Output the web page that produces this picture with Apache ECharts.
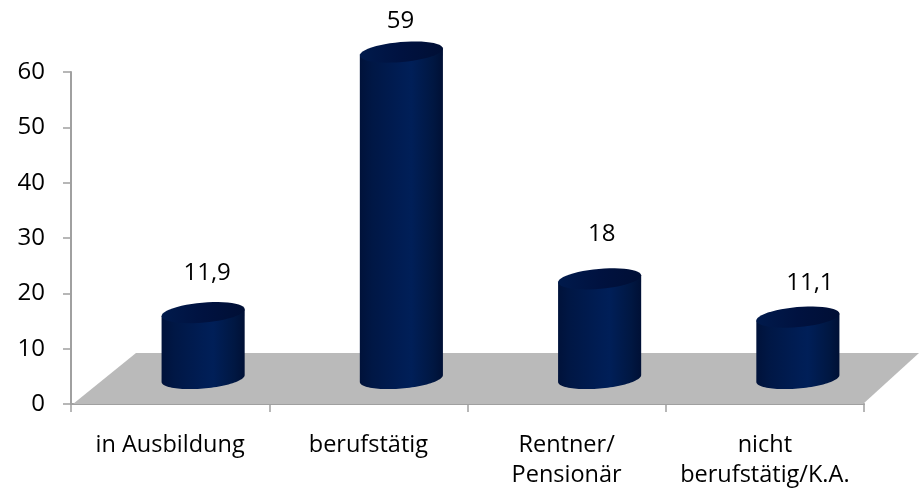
<!DOCTYPE html>
<html>
<head>
<meta charset="utf-8">
<style>html,body{margin:0;padding:0;background:#fff}#c{width:919px;height:488px}</style>
<script src="https://cdn.jsdelivr.net/npm/echarts@6/dist/echarts.min.js"></script>
</head>
<body>
<div id="c"></div>
<script>
const categories = ['in Ausbildung', 'berufstätig', 'Rentner/\nPensionär', 'nicht\nberufstätig/K.A.'];
const values = [11.9, 59, 18, 11.1];
const yTicks = { min: 0, max: 60, interval: 10 };

// style constants of the fake-3D look
const FONT = '"Open Sans", sans-serif';
const DEPTH_X = 33, DEPTH_Y = 25.5;
const RX = 41.7, RY = 10, TILT = 5 * Math.PI / 180;
const LABEL_NUDGE = [[4, -39], [-1, -31], [2, -45], [12, -34]];

function ellipsePoint(cx, cy, t) {
  const c = Math.cos(t), s = Math.sin(t);
  return [
    cx + RX * c * Math.cos(TILT) + RY * s * Math.sin(TILT),
    cy - RX * c * Math.sin(TILT) + RY * s * Math.cos(TILT)
  ];
}
function arc(cx, cy, t0, t1) {
  const pts = [];
  for (let i = 0; i <= 48; i++) pts.push(ellipsePoint(cx, cy, t0 + (t1 - t0) * i / 48));
  return pts;
}
const T0 = Math.atan((RY / RX) * Math.tan(TILT));

const bodyFill = {
  type: 'linear', x: 0, y: 0, x2: 1, y2: 0,
  colorStops: [
    { offset: 0, color: '#00123a' }, { offset: 0.15, color: '#001745' },
    { offset: 0.5, color: '#001d54' }, { offset: 0.62, color: '#001f58' },
    { offset: 0.88, color: '#001742' }, { offset: 1, color: '#001035' }
  ]
};
const capFill = {
  type: 'linear', x: 0, y: 0, x2: 1, y2: 0,
  colorStops: [
    { offset: 0, color: '#001a4c' }, { offset: 0.5, color: '#001240' }, { offset: 1, color: '#000f35' }
  ]
};

function renderFloor(params, api) {
  const g = params.coordSys, b = g.y + g.height;
  return {
    type: 'polygon', silent: true,
    shape: { points: [[g.x + 2, b], [g.x + 65, b - 51], [919, b - 51], [g.x + g.width - 1, b]] },
    style: { fill: '#bababa' }
  };
}

function renderBar(params, api) {
  const i = api.value(0), v = api.value(1);
  const top = api.coord([i, v]), base = api.coord([i, 0]);
  const cx = base[0] + DEPTH_X;
  const botY = base[1] - DEPTH_Y, topY = top[1] - DEPTH_Y;
  const body = [ellipsePoint(cx, topY, T0)]
    .concat(arc(cx, botY, T0, T0 + Math.PI))
    .concat([ellipsePoint(cx, topY, T0 + Math.PI)]);
  const n = LABEL_NUDGE[i];
  return {
    type: 'group',
    children: [
      { type: 'polygon', shape: { points: body }, style: { fill: bodyFill } },
      { type: 'polygon', shape: { points: arc(cx, topY, 0, Math.PI * 2) }, style: { fill: capFill } },
      { type: 'text', style: {
          x: cx + n[0], y: topY + n[1],
          text: String(v).replace('.', ','),
          fill: '#000', font: '24px ' + FONT, align: 'center', verticalAlign: 'middle'
      } }
    ]
  };
}

const chart = echarts.init(document.getElementById('c'), null, { renderer: 'canvas' });
chart.setOption({
  animation: false,
  backgroundColor: '#fff',
  grid: { left: 71, right: 55, top: 72, bottom: 84, outerBoundsMode: 'none' },
  xAxis: {
    type: 'category', data: categories,
    axisLine: { lineStyle: { color: '#a0a0a0', width: 2 } },
    axisTick: { show: true, alignWithLabel: false, length: 8, lineStyle: { color: '#a0a0a0', width: 1.5 } },
    axisLabel: { interval: 0, color: '#000', fontFamily: FONT, fontSize: 23.5, lineHeight: 30, margin: 26 }
  },
  yAxis: {
    type: 'value', min: yTicks.min, max: yTicks.max, interval: yTicks.interval,
    splitLine: { show: false },
    axisLine: { show: true, lineStyle: { color: '#a0a0a0', width: 2 } },
    axisTick: { show: true, length: 8, lineStyle: { color: '#a0a0a0', width: 1.5 } },
    axisLabel: { color: '#000', fontFamily: FONT, fontSize: 24, margin: 26, padding: [3, 0, 0, 0] }
  },
  series: [
    { type: 'custom', silent: true, z: 1, clip: false, renderItem: renderFloor, data: [[0, 0]] },
    { type: 'custom', silent: true, z: 2, clip: false, renderItem: renderBar,
      encode: { x: 0, y: 1 }, data: values.map((v, i) => [i, v]) }
  ]
});
</script>
</body>
</html>
